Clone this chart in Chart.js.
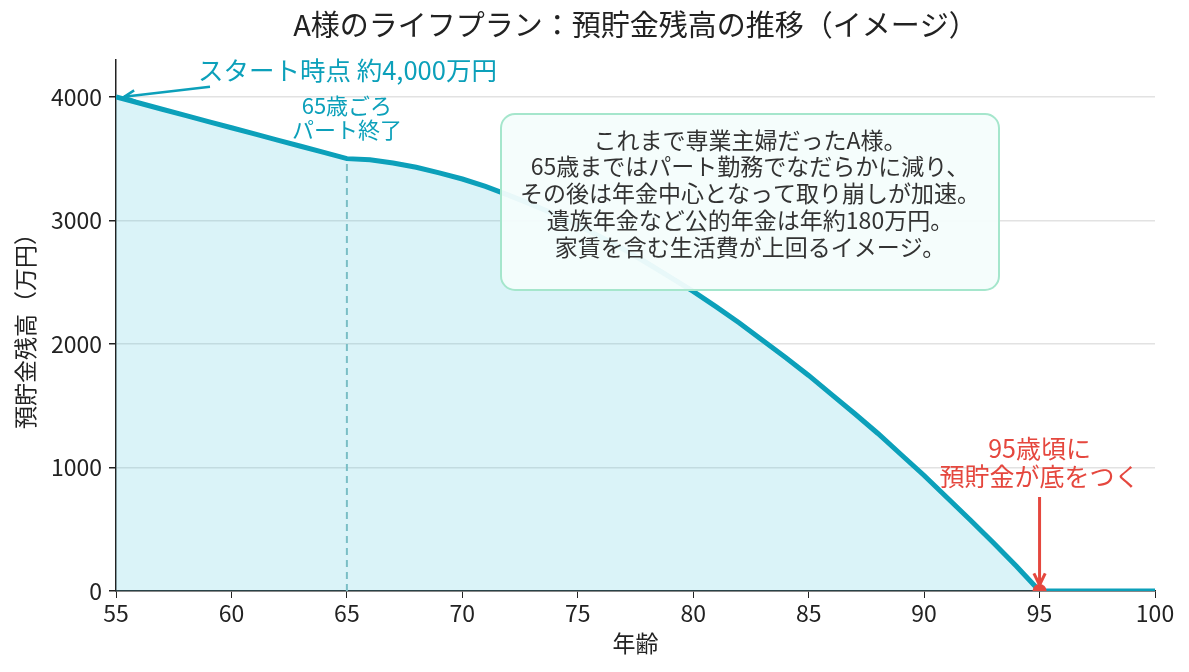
<!DOCTYPE html>
<html lang="ja">
<head>
<meta charset="utf-8">
<title>A様のライフプラン</title>
<script src="https://cdn.jsdelivr.net/npm/chart.js@4"></script>
<style>
  html, body { margin: 0; padding: 0; background: #fff; }
  canvas { display: block; }
</style>
</head>
<body>
<canvas id="cPlan" width="1189" height="672"></canvas>
<script>
// ===== データ =====
const ages = [55, 56, 57, 58, 59, 60, 61, 62, 63, 64, 65, 66, 67, 68, 69, 70, 71, 72, 73, 74, 75, 76, 77, 78,
    79, 80, 81, 82, 83, 84, 85, 86, 87, 88, 89, 90, 91, 92, 93, 94, 95, 96, 97, 98, 99, 100];
const balance = [4000, 3950, 3900, 3850, 3800, 3750, 3700, 3650, 3600, 3550, 3500,
    3490, 3465, 3430, 3385, 3335, 3275, 3205, 3130, 3050, 2960, 2865, 2765, 2655, 2540,
    2425, 2300, 2170, 2030, 1890, 1745, 1590, 1435, 1275, 1105, 935, 755, 575, 390, 200, 0,
    0, 0, 0, 0, 0];
const yTicks = [0, 1000, 2000, 3000, 4000];
const xTicks = [55, 60, 65, 70, 75, 80, 85, 90, 95, 100];

const partEndAge = 65;
const emptyAge = 95;

const titleText = 'A様のライフプラン：預貯金残高の推移（イメージ）';
const startLabel = 'スタート時点 約4,000万円';
const partLabel = ['65歳ごろ', 'パート終了'];
const emptyLabel = ['95歳頃に', '預貯金が底をつく'];
const boxLines = [
    'これまで専業主婦だったA様。',
    '65歳まではパート勤務でなだらかに減り、',
    'その後は年金中心となって取り崩しが加速。',
    '遺族年金など公的年金は年約180万円。',
    '家賃を含む生活費が上回るイメージ。'
];

const FONT = '"Noto Sans CJK JP", "Noto Sans", sans-serif';
const TEAL = '#0ca0ba';
const RED = '#e5473e';

Chart.defaults.font.family = FONT;
Chart.defaults.color = '#222';

function arrowHead(ctx, fx, fy, tx, ty, len) {
    const ang = Math.atan2(ty - fy, tx - fx);
    ctx.beginPath();
    ctx.moveTo(tx - len * Math.cos(ang - 0.45), ty - len * Math.sin(ang - 0.45));
    ctx.lineTo(tx, ty);
    ctx.lineTo(tx - len * Math.cos(ang + 0.45), ty - len * Math.sin(ang + 0.45));
    ctx.stroke();
}

// 注釈（破線・矢印・テキストボックス）
const notes = {
    id: 'notes',
    beforeDatasetsDraw(chart) {
        const { ctx, scales: { x, y } } = chart;
        const px = x.getPixelForValue(partEndAge);
        ctx.save();
        ctx.strokeStyle = '#88bdc1';
        ctx.lineWidth = 2;
        ctx.setLineDash([7, 5]);
        ctx.beginPath();
        ctx.moveTo(px, y.getPixelForValue(0));
        ctx.lineTo(px, y.getPixelForValue(balance[ages.indexOf(partEndAge)]));
        ctx.stroke();
        ctx.restore();
    },
    afterDatasetsDraw(chart) {
        const { ctx, chartArea: a, scales: { x, y } } = chart;
        ctx.save();

        // 95歳の点（プロット領域でクリップ）
        const ex = x.getPixelForValue(emptyAge), ey = y.getPixelForValue(0);
        ctx.save();
        ctx.beginPath();
        ctx.rect(a.left, a.top, a.right - a.left, a.bottom - a.top);
        ctx.clip();
        ctx.fillStyle = RED;
        ctx.beginPath();
        ctx.arc(ex, ey, 7, 0, Math.PI * 2);
        ctx.fill();
        ctx.restore();

        // スタート時点
        const sx = x.getPixelForValue(ages[0]), sy = y.getPixelForValue(balance[0]);
        ctx.fillStyle = TEAL;
        ctx.font = '25.5px ' + FONT;
        ctx.textAlign = 'left';
        ctx.textBaseline = 'middle';
        ctx.fillText(startLabel, sx + 82, sy - 27);
        ctx.strokeStyle = TEAL;
        ctx.lineWidth = 2.5;
        ctx.beginPath();
        ctx.moveTo(sx + 94, sy - 10);
        ctx.lineTo(sx + 8, sy);
        ctx.stroke();
        arrowHead(ctx, sx + 94, sy - 10, sx + 8, sy, 12);

        // 65歳ごろ
        const px = x.getPixelForValue(partEndAge);
        ctx.font = '22px ' + FONT;
        ctx.textAlign = 'center';
        partLabel.forEach((t, i) => ctx.fillText(t, px, 106 + i * 24));

        // 説明ボックス
        ctx.fillStyle = 'rgba(244,253,252,0.95)';
        ctx.strokeStyle = '#a5e6cc';
        ctx.lineWidth = 2;
        ctx.beginPath();
        ctx.roundRect(501, 114, 498, 176, 14);
        ctx.fill();
        ctx.stroke();
        ctx.fillStyle = '#333';
        ctx.font = '23px ' + FONT;
        boxLines.forEach((t, i) => ctx.fillText(t, 750, 140 + i * 26.7));

        // 95歳頃
        ctx.fillStyle = RED;
        ctx.font = '25px ' + FONT;
        emptyLabel.forEach((t, i) => ctx.fillText(t, ex, 448 + i * 28));
        ctx.strokeStyle = RED;
        ctx.lineWidth = 3;
        ctx.beginPath();
        ctx.moveTo(ex, 497);
        ctx.lineTo(ex, ey - 6);
        ctx.stroke();
        arrowHead(ctx, ex, 497, ex, ey - 6, 13);

        ctx.restore();
    }
};

new Chart(document.getElementById('cPlan').getContext('2d'), {
    type: 'line',
    data: {
        datasets: [{
            label: '預貯金残高',
            data: ages.map((a, i) => ({ x: a, y: balance[i] })),
            borderColor: TEAL,
            borderWidth: 5,
            backgroundColor: 'rgba(70,195,220,0.2)',
            fill: 'origin',
            pointRadius: 0,
            tension: 0,
            clip: 0
        }]
    },
    options: {
        responsive: false,
        animation: false,
        devicePixelRatio: 1,
        layout: { padding: { left: 0, right: 34, top: 0, bottom: 0 } },
        plugins: {
            legend: { display: false },
            tooltip: { enabled: false },
            title: {
                display: true,
                text: titleText,
                fullSize: false,
                color: '#222',
                font: { size: 29, weight: 'normal' },
                padding: { top: 8, bottom: 17 }
            }
        },
        scales: {
            x: {
                type: 'linear',
                min: 55, max: 100,
                afterBuildTicks: s => { s.ticks = xTicks.map(v => ({ value: v })); },
                afterFit: s => { s.height = 81; },
                ticks: { font: { size: 23 }, color: '#222', padding: 1, maxRotation: 0, callback: v => String(v) },
                grid: { drawOnChartArea: false, tickColor: '#222', tickLength: 7 },
                border: { color: '#222', width: 1.5 },
                title: { display: true, text: '年齢', color: '#222', font: { size: 23 }, padding: { bottom: 15 } }
            },
            y: {
                min: 0, max: 4300,
                afterBuildTicks: s => { s.ticks = yTicks.map(v => ({ value: v })); },
                afterFit: s => { s.width = 116; },
                ticks: { font: { size: 23 }, color: '#222', padding: 7, callback: v => String(v) },
                grid: { color: '#e2e2e2', lineWidth: 1.5, tickColor: '#222', tickLength: 7 },
                border: { color: '#222', width: 1.5 },
                title: { display: true, text: '預貯金残高（万円）', color: '#222', font: { size: 23 }, padding: { top: 11 } }
            }
        }
    },
    plugins: [notes]
});
</script>
</body>
</html>
